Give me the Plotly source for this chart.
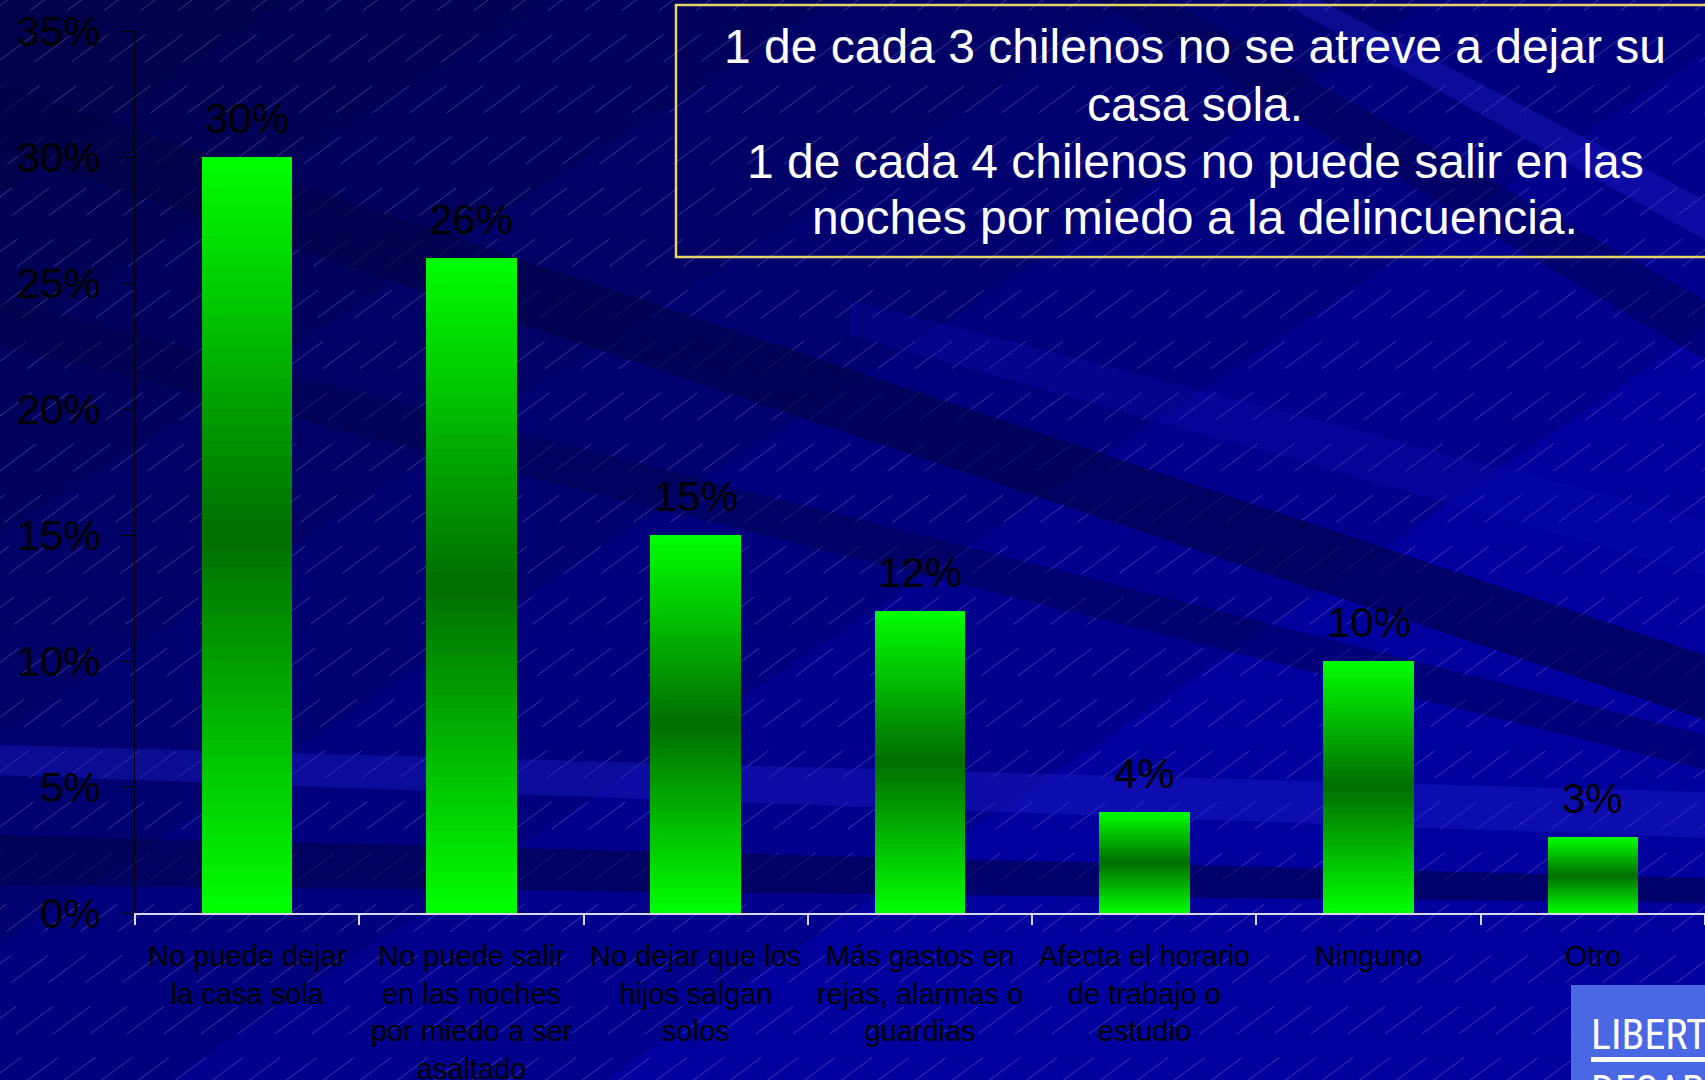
import plotly.graph_objects as go

# ---------------- data ----------------
categories = [
    "No puede dejar la casa sola",
    "No puede salir en las noches por miedo a ser asaltado",
    "No dejar que los hijos salgan solos",
    "Más gastos en rejas, alarmas o guardias",
    "Afecta el horario de trabajo o estudio",
    "Ninguno",
    "Otro",
]
tick_labels = [
    "No puede dejar<br>la casa sola",
    "No puede salir<br>en las noches<br>por miedo a ser<br>asaltado",
    "No dejar que los<br>hijos salgan<br>solos",
    "Más gastos en<br>rejas, alarmas o<br>guardias",
    "Afecta el horario<br>de trabajo o<br>estudio",
    "Ninguno",
    "Otro",
]
values = [0.30, 0.26, 0.15, 0.12, 0.04, 0.10, 0.03]
y_tick_values = [0, 0.05, 0.10, 0.15, 0.20, 0.25, 0.30, 0.35]
y_tick_labels = ["0%", "5%", "10%", "15%", "20%", "25%", "30%", "35%"]
callout_lines = [
    "1 de cada 3 chilenos no se atreve a dejar su",
    "casa sola.",
    "1 de cada 4 chilenos no puede salir en las",
    "noches por miedo a la delincuencia.",
]
logo_lines = ["LIBERTAD Y", "DESARROLLO"]

# ---------------- geometry helpers (decoration only) ----------------
W, H = 1705, 1080
L, R, T, B = 135, 1705, 31, 913
FONT = "Arial, 'Liberation Sans', sans-serif"
NARROW = "'Liberation Sans Narrow', 'Arial Narrow', 'Roboto Condensed', Arial, sans-serif"


def px(x, y):
    return (x - L) / (R - L), (B - y) / (B - T)


def poly(points, color):
    parts = []
    for i, (x, y) in enumerate(points):
        xp, yp = px(x, y)
        parts.append(("M" if i == 0 else "L") + f"{xp:.5f},{yp:.5f}")
    return dict(type="path", xref="paper", yref="paper", path=" ".join(parts) + " Z",
                fillcolor=color, line=dict(width=0), layer="below")


shapes = []
# darkening towards the upper-left corner
for a, b in [(2200, 1500), (1800, 1200), (1450, 950), (1150, 740), (850, 540), (560, 350), (300, 200)]:
    shapes.append(poly([(-10, -10), (a, -10), (-10, b)], "rgba(0,0,30,0.13)"))

# fine diagonal hatch lines
slope = 0.74
step = 37
x0 = -int(H / slope) - step
while x0 < W + step:
    xa, ya = px(x0, H + 5)
    xb, yb = px(x0 + (H + 10) / slope, -5)
    shapes.append(dict(type="line", xref="paper", yref="paper", x0=xa, y0=ya, x1=xb, y1=yb,
                       line=dict(color="rgba(170,170,255,0.33)", width=1, dash="46px,40px"),
                       layer="below"))
    x0 += step

# diagonal streaks (drawn over the hatch, like the reference)
shapes.append(poly([(0, 85), (1705, 655), (1705, 720), (0, 150)], "rgba(0,0,70,0.60)"))
shapes.append(poly([(0, 300), (1705, 735), (1705, 770), (0, 345)], "rgba(0,0,70,0.40)"))
shapes.append(poly([(0, 745), (1705, 792), (1705, 838), (0, 775)], "rgba(30,30,200,0.40)"))
shapes.append(poly([(0, 835), (1705, 878), (1705, 903), (0, 885)], "rgba(0,0,70,0.55)"))
shapes.append(poly([(1150, -10), (1705, 300), (1705, 360), (1080, -10)], "rgba(0,0,60,0.35)"))
shapes.append(poly([(1300, -10), (1705, 200), (1705, 240), (1260, -10)], "rgba(40,40,220,0.30)"))
shapes.append(poly([(850, 300), (1705, 520), (1705, 575), (850, 335)], "rgba(20,20,190,0.22)"))

# callout box
bx0, by0 = px(676, 5)
bx1, by1 = px(1730, 257)
shapes.append(dict(type="rect", xref="paper", yref="paper", x0=bx0, y0=by0, x1=bx1, y1=by1,
                   line=dict(color="#E6D66A", width=2.5), fillcolor="rgba(0,0,0,0)", layer="above"))
# logo box
lx0, ly0 = px(1571, 985)
lx1, ly1 = px(1730, 1090)
shapes.append(dict(type="rect", xref="paper", yref="paper", x0=lx0, y0=ly0, x1=lx1, y1=ly1,
                   line=dict(width=0), fillcolor="#4B68E4", layer="above"))
ux0, uy0 = px(1591, 1057)
ux1, uy1 = px(1730, 1062)
shapes.append(dict(type="rect", xref="paper", yref="paper", x0=ux0, y0=uy0, x1=ux1, y1=uy1,
                   line=dict(width=0), fillcolor="#FFFFFF", layer="above"))

# ---------------- bars with a vertical green gradient ----------------
N = 48
fig = go.Figure()
for k in range(N):
    f = (k + 0.5) / N
    g = int(round(110 + (255 - 110) * abs(2 * f - 1)))
    fig.add_trace(go.Bar(
        x=categories, y=[v / N for v in values],
        marker=dict(color=f"rgb(0,{g},0)", line=dict(width=0)),
        showlegend=False, hoverinfo="skip",
    ))

annotations = []
for c, v in zip(categories, values):
    annotations.append(dict(x=c, y=v, xref="x", yref="y", text=f"{v:.0%}", showarrow=False,
                            yanchor="bottom", yshift=13,
                            font=dict(family=FONT, size=42, color="#000000")))

line_centers = [47, 104, 161, 218]
cx, _ = px(1195, 0)
for txt, yc in zip(callout_lines, line_centers):
    _, yp = px(0, yc)
    annotations.append(dict(x=cx, y=yp, xref="paper", yref="paper", text=txt, showarrow=False,
                            xanchor="center", yanchor="middle",
                            font=dict(family=FONT, size=48, color="#FFFFFF")))

for txt, yc in zip(logo_lines, [1034, 1090]):
    xp, yp = px(1589, yc)
    annotations.append(dict(x=xp, y=yp, xref="paper", yref="paper", text=txt, showarrow=False,
                            xanchor="left", yanchor="middle",
                            font=dict(family=NARROW, size=42, color="#FFFFFF")))

cat_width = (R - L) / 7.0
fig.update_layout(
    width=W, height=H,
    margin=dict(l=L, r=W - R, t=T, b=H - B, pad=0),
    paper_bgcolor="#00009E",
    plot_bgcolor="rgba(0,0,0,0)",
    barmode="stack",
    bargap=0.596,
    showlegend=False,
    shapes=shapes,
    annotations=annotations,
    font=dict(family=FONT, color="#000000"),
    xaxis=dict(
        range=[-0.5, -0.5 + (R - L) / cat_width],
        automargin=False,
        tickmode="array", tickvals=categories, ticktext=tick_labels,
        tickson="boundaries", ticks="outside", ticklen=10, tickcolor="#D8D8F0", tickwidth=1.5,
        showline=True, linecolor="#D8D8F0", linewidth=2,
        showgrid=False, zeroline=False,
        tickfont=dict(family=FONT, size=29, color="#000000"),
        ticklabelstandoff=16,
        tickangle=0,
    ),
    yaxis=dict(
        range=[0, 0.35],
        automargin=False,
        tickmode="array", tickvals=y_tick_values, ticktext=y_tick_labels,
        ticks="outside", ticklen=12, tickcolor="#000000", tickwidth=1,
        showline=True, linecolor="#000000", linewidth=1,
        showgrid=False, zeroline=False,
        tickfont=dict(family=FONT, size=42, color="#000000"),
        ticklabelstandoff=13,
    ),
)

fig.write_html("out.html", config={"displayModeBar": False},
               post_script="document.body.style.margin='0';")
